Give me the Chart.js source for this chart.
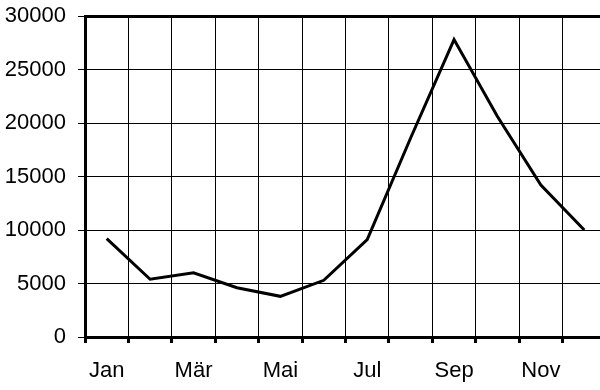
<!DOCTYPE html>
<html>
<head>
<meta charset="utf-8">
<script src="https://cdn.jsdelivr.net/npm/chart.js@4"></script>
<style>
  html, body { margin: 0; padding: 0; overflow: hidden; background: #fff; }
  #grafico { display: block; }
</style>
</head>
<body>
<canvas id="grafico" width="610" height="390"></canvas>
<script>
const monate = ["Jan", "Feb", "Mär", "Apr", "Mai", "Jun", "Jul", "Aug", "Sep", "Okt", "Nov", "Dez"];
const werte = [9200, 5400, 6000, 4600, 3800, 5300, 9100, 18600, 27800, 20600, 14200, 10000];
const yTicks = [0, 5000, 10000, 15000, 20000, 25000, 30000];

const ctx = document.getElementById('grafico').getContext('2d');

const myChart = new Chart(ctx, {
    type: 'line',
    data: {
        labels: monate,
        datasets: [{
            data: werte,
            borderColor: '#000',
            borderWidth: 3,
            pointRadius: 0,
            tension: 0,
            fill: false
        }]
    },
    options: {
        responsive: false,
        animation: false,
        layout: { padding: { top: 16, right: 4, left: 0, bottom: 0 } },
        plugins: {
            legend: { display: false },
            tooltip: { enabled: false }
        },
        scales: {
            x: {
                type: 'category',
                offset: true,
                grid: {
                    offset: true,
                    color: '#000',
                    lineWidth: 1,
                    tickLength: 6,
                    tickWidth: 3,
                    tickColor: '#000'
                },
                border: { color: '#000', width: 3 },
                ticks: {
                    autoSkip: false,
                    maxRotation: 0,
                    color: '#000',
                    padding: 15,
                    font: { family: 'Liberation Sans, Arial, sans-serif', size: 22 },
                    callback: (val, i) => (i % 2 === 0 ? monate[i] : '')
                },
                afterFit: scale => {
                    scale.height = 53;
                    scale.paddingLeft = 0;
                    scale.paddingRight = 0;
                }
            },
            y: {
                min: yTicks[0],
                max: yTicks[yTicks.length - 1],
                afterBuildTicks: scale => { scale.ticks = yTicks.map(v => ({ value: v })); },
                grid: {
                    color: '#000',
                    // oberste Linie ist der Rahmen
                    lineWidth: c => (c.tick && c.tick.value === yTicks[yTicks.length - 1] ? 3 : 1),
                    tickLength: 7,
                    tickWidth: 1,
                    tickColor: '#000'
                },
                border: { color: '#000', width: 3 },
                ticks: {
                    color: '#000',
                    padding: 12,
                    font: { family: 'Liberation Sans, Arial, sans-serif', size: 22 },
                    callback: v => String(v)
                },
                afterFit: scale => {
                    scale.width = 85;
                    scale.paddingTop = 0;
                    scale.paddingBottom = 0;
                }
            }
        }
    }
});
</script>
</body>
</html>
